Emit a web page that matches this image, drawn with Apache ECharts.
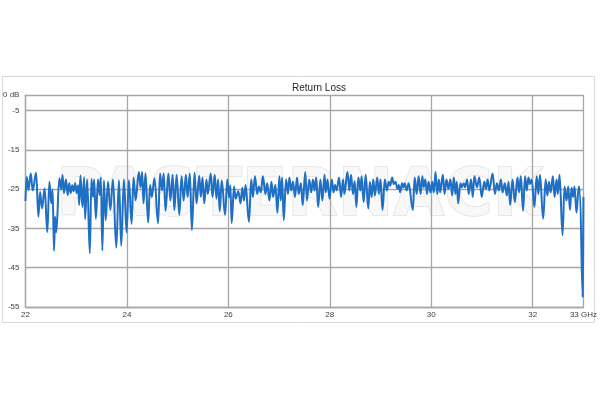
<!DOCTYPE html>
<html>
<head>
<meta charset="utf-8">
<script src="https://cdn.jsdelivr.net/npm/echarts@6/dist/echarts.min.js"></script>
<style>html,body{margin:0;padding:0;background:#fff}#c{width:600px;height:400px}</style>
</head>
<body>
<div id="c"></div>
<script>
var title = 'Return Loss';
var xTicks = [22, 24, 26, 28, 30, 32, 33];
var yTicks = [-55, -45, -35, -25, -15, -5, -1];
var freqGHz = [
22.000,22.025,22.059,22.104,22.143,22.210,22.255,22.288,22.327,22.378,22.431,22.471,22.510,22.535,22.563,22.584,22.608,22.667,22.706,22.731,22.759,22.798,22.833,22.863,22.892,22.922,22.951,22.980,23.010,23.039,23.059,23.084,23.124,23.157,23.176,23.216,23.269,23.300,23.333,23.353,23.388,23.431,23.463,23.486,23.516,23.547,23.582,
23.627,23.673,23.725,23.790,23.843,23.888,23.941,23.994,24.039,24.092,24.131,24.171,24.235,24.269,24.300,24.327,24.367,24.418,24.457,24.490,24.543,24.614,24.653,24.692,24.725,24.761,24.818,24.857,24.902,24.935,24.980,25.033,25.078,25.118,
25.163,25.196,25.241,25.280,25.333,25.373,25.425,25.457,25.490,25.524,25.569,25.594,25.653,25.686,25.731,25.765,25.798,25.829,25.869,25.935,25.980,26.014,26.039,26.065,26.112,26.143,26.196,26.241,26.275,26.308,26.339,26.406,26.451,26.484,26.524,26.569,26.602,26.641,26.680,
26.731,26.765,26.810,26.849,26.882,26.927,26.967,27.006,27.033,27.059,27.092,27.137,27.176,27.202,27.241,27.275,27.314,27.353,27.386,27.431,27.465,27.516,27.549,27.594,27.633,27.667,27.700,27.731,27.771,27.814,27.853,27.896,27.922,27.955,27.994,28.039,28.073,28.104,28.137,28.182,28.222,28.261,
28.288,28.347,28.386,28.418,28.457,28.490,28.524,28.563,28.602,28.627,28.667,28.706,28.759,28.790,28.824,28.857,28.888,28.935,28.967,29.000,29.039,29.084,29.124,29.163,29.190,29.229,29.261,29.294,29.333,29.359,29.386,29.425,29.451,29.476,29.516,29.555,29.637,29.673,29.712,29.751,29.790,29.824,29.849,29.882,29.916,
29.947,29.986,30.020,30.051,30.084,30.118,30.151,30.176,30.229,30.261,30.300,30.339,30.378,30.412,30.445,30.476,30.504,30.529,30.575,30.602,30.641,30.667,30.706,30.739,30.784,30.818,30.849,30.902,30.947,30.994,31.045,31.078,31.112,31.143,31.210,31.255,31.294,31.333,31.373,
31.405,31.451,31.490,31.524,31.555,31.602,31.647,31.700,31.731,31.765,31.810,31.849,31.882,31.916,31.947,31.980,32.033,32.078,32.112,32.143,32.206,32.255,32.288,32.320,32.353,32.398,32.431,32.471,32.496,32.529,32.588,32.627,32.667,32.700,32.735,32.765,32.798,32.824,32.863,32.908,32.931,32.985,33.000
];
var returnLossDb = [
-28.0,-21.8,-25.2,-21.0,-25.3,-20.8,-32.0,-25.7,-29.9,-24.8,-35.9,-23.1,-28.6,-25.1,-40.7,-32.0,-36.0,-22.2,-25.0,-21.4,-26.0,-22.5,-26.5,-23.5,-26.0,-24.0,-25.5,-23.5,-26.0,-24.0,-29.0,-21.5,-29.5,-22.0,-32.6,-22.5,-41.3,-22.4,-27.0,-22.5,-32.5,-22.5,-26.5,-22.0,-40.6,-22.8,-32.9,
-23.1,-30.3,-22.5,-39.9,-22.7,-39.4,-22.5,-36.0,-22.7,-33.8,-22.0,-27.8,-20.6,-24.5,-20.6,-28.6,-20.9,-33.5,-23.9,-27.0,-22.2,-33.7,-21.0,-25.3,-21.0,-30.5,-21.0,-27.9,-21.3,-30.3,-21.3,-31.5,-21.7,-27.9,
-21.3,-27.0,-21.0,-35.4,-20.8,-28.6,-21.6,-27.0,-22.0,-28.6,-22.5,-26.2,-21.0,-27.0,-21.3,-27.4,-22.5,-30.6,-22.8,-31.5,-22.5,-27.0,-24.0,-33.6,-24.3,-27.4,-25.5,-28.6,-24.6,-27.9,-23.9,-33.3,-22.5,-27.0,-21.7,-26.2,-24.3,-25.8,-21.7,
-26.2,-23.5,-27.9,-23.1,-27.0,-23.9,-31.0,-21.7,-27.9,-22.0,-32.9,-22.5,-26.2,-22.0,-25.3,-23.1,-27.0,-22.0,-26.2,-23.5,-29.1,-20.6,-27.9,-22.5,-25.8,-22.5,-25.3,-22.0,-29.5,-22.5,-27.9,-21.3,-25.8,-22.5,-27.4,-22.5,-25.8,-23.9,-25.3,-22.0,-27.0,-22.5,
-26.2,-20.6,-25.3,-21.3,-26.2,-23.0,-29.5,-22.0,-25.3,-21.7,-28.3,-21.3,-29.9,-23.1,-27.0,-22.5,-26.6,-22.0,-26.2,-22.5,-30.3,-22.5,-25.3,-23.1,-24.1,-22.0,-23.7,-23.1,-24.9,-23.9,-25.8,-23.5,-24.5,-23.5,-25.3,-23.5,-30.3,-22.0,-26.2,-21.7,-26.2,-21.7,-24.5,-22.5,-26.2,
-23.1,-25.8,-23.1,-25.8,-20.6,-26.2,-22.5,-25.8,-21.3,-26.2,-22.5,-24.9,-22.5,-26.6,-22.0,-26.2,-23.1,-28.6,-23.5,-24.5,-23.5,-24.5,-22.5,-26.2,-22.5,-27.0,-21.7,-24.5,-22.0,-27.0,-23.1,-24.9,-22.5,-25.3,-21.0,-26.2,-23.5,-25.3,-22.5,
-25.8,-23.5,-26.6,-23.1,-29.0,-22.5,-28.3,-22.0,-25.8,-21.7,-30.5,-21.7,-25.3,-22.0,-23.7,-22.5,-29.5,-21.7,-26.2,-21.3,-32.5,-22.5,-26.6,-23.1,-25.8,-21.7,-27.0,-22.5,-26.2,-21.3,-36.7,-24.3,-27.9,-24.3,-30.3,-24.6,-27.0,-24.3,-31.0,-24.3,-26.0,-52.4,-27.0
];
var points = freqGHz.map(function (f, i) { return [f, returnLossDb[i]]; });

var chart = echarts.init(document.getElementById('c'), null, { renderer: 'canvas' });
var gridColor = '#a6a6a6';
chart.setOption({
  backgroundColor: '#ffffff',
  animation: false,
  title: {
    text: title, left: 314, top: 78, textAlign: 'center',
    textStyle: { fontFamily: 'Liberation Sans', fontSize: 10, fontWeight: 'normal', color: '#262626' }
  },
  graphic: [
    { type: 'rect', z: -5, shape: { x: 2.5, y: 76.5, width: 592, height: 246 },
      style: { fill: '#ffffff', stroke: '#d9d9d9', lineWidth: 1 } },
    { type: 'text', z: -4, x: 300, y: 198,
      style: { text: 'PASTERNACK', fontFamily: 'DejaVu Sans', fontWeight: 'bold', fontSize: 66,
               textAlign: 'center', textVerticalAlign: 'middle',
               fill: '#f8f8f8', stroke: '#e2e2e2', lineWidth: 1.5 } }
  ],
  grid: { left: 24, right: 15, top: 95, bottom: 93, containLabel: false },
  xAxis: {
    type: 'value', min: 22, max: 33, interval: 2,
    axisLine: { show: true, lineStyle: { color: gridColor, width: 1.3 } },
    axisTick: { show: false },
    splitLine: { show: true, lineStyle: { color: gridColor, width: 1.3 } },
    axisLabel: {
      margin: 4, fontFamily: 'Liberation Sans', fontSize: 8, color: '#404040',
      formatter: function (v) { return v === 33 ? '33 GHz' : String(v); }
    }
  },
  yAxis: {
    type: 'value', min: -55, max: -1,
    axisLine: { show: true, lineStyle: { color: gridColor, width: 1.3 } },
    axisTick: { show: false, customValues: yTicks },
    splitLine: { show: true, lineStyle: { color: gridColor, width: 1.3 } },
    axisLabel: {
      customValues: yTicks, margin: 6, fontFamily: 'Liberation Sans', fontSize: 8, color: '#404040',
      formatter: function (v) { return v === -1 ? '0 dB' : String(v); }
    }
  },
  series: [{
    type: 'line', data: points, showSymbol: false, smooth: 0.4, smoothMonotone: 'x',
    lineStyle: { color: '#1f6fc4', width: 2 }, clip: true
  }]
});
</script>
</body>
</html>
